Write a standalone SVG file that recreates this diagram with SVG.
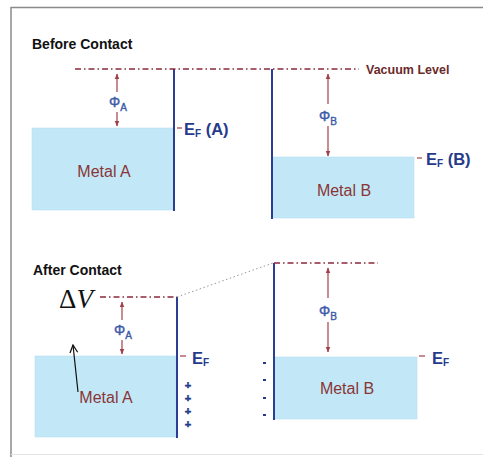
<svg xmlns="http://www.w3.org/2000/svg" width="483" height="457" viewBox="0 0 483 457">
<defs>
<style>
.frame{stroke:#8a8a8a;stroke-width:1.5;fill:none}
.vac{stroke:#8b2a3a;stroke-width:1.3;stroke-dasharray:6,3,1.5,3;fill:none}
.wall{stroke:#2b3d94;stroke-width:2;fill:none}
.metal{fill:#c2e8f8;stroke:#b0dcf0;stroke-width:0.5}
.phi{stroke:#a0404a;stroke-width:1.2;fill:none}
.tick{stroke:#a0404a;stroke-width:1.2}
.title{font-family:"Liberation Sans",Arial,sans-serif;font-weight:bold;font-size:14px;fill:#111}
.mtxt{font-family:"Liberation Sans",Arial,sans-serif;font-size:16px;fill:#8a3535;text-anchor:middle}
.ef{font-family:"Liberation Sans",Arial,sans-serif;font-weight:bold;font-size:16.5px;fill:#263a8c}
.efs{font-size:10px}
.ph{font-family:"Liberation Sans",Arial,sans-serif;font-size:14px;fill:#3a5aa8;stroke:#3a5aa8;stroke-width:0.4}
.phs{font-size:10px}
.vl{font-family:"Liberation Sans",Arial,sans-serif;font-weight:bold;font-size:12.5px;fill:#6a2a2a}
.sign{font-family:"Liberation Sans",Arial,sans-serif;font-weight:bold;font-size:11px;fill:#263a8c;text-anchor:middle;stroke:#263a8c;stroke-width:0.5}
.minus{fill:#263a8c}
</style>
<marker id="ah" viewBox="0 0 10 10" refX="9" refY="5" markerWidth="5" markerHeight="5" orient="auto-start-reverse">
<path d="M0,1 L10,5 L0,9 z" fill="#a0404a"/>
</marker>
<marker id="oa" viewBox="0 0 10 10" refX="9" refY="5" markerWidth="8" markerHeight="8" orient="auto">
<path d="M1,1 L9,5 L1,9" fill="none" stroke="#111" stroke-width="1.3"/>
</marker>
</defs>
<rect width="483" height="457" fill="#fff"/>
<g id="frame">
<path class="frame" d="M11,457 V7.5 H483"/>
<path d="M11,454.5 H483" stroke="#e4e4e4" stroke-width="1"/>
</g>

<text class="title" x="32" y="49">Before Contact</text>
<text class="title" x="33" y="275">After Contact</text>

<g id="metalA-before">
<rect class="metal" x="32" y="128" width="142" height="82"/>
<line class="wall" x1="174" y1="69" x2="174" y2="211"/>
<text class="mtxt" x="104" y="177">Metal A</text>
<line class="tick" x1="177" y1="128" x2="182" y2="128"/>
<text class="ef" x="184" y="135">E<tspan class="efs" dy="2">F</tspan><tspan dy="-2"> (A)</tspan></text>
</g>

<g id="metalB-before">
<rect class="metal" x="272" y="157" width="142" height="61"/>
<line class="wall" x1="272" y1="69" x2="272" y2="219"/>
<text class="mtxt" x="344" y="196">Metal B</text>
<line class="tick" x1="417" y1="158" x2="422" y2="158"/>
<text class="ef" x="426" y="165">E<tspan class="efs" dy="2">F</tspan><tspan dy="-2"> (B)</tspan></text>
</g>

<g id="vacuum-before">
<line class="vac" x1="75" y1="69" x2="359" y2="69"/>
<text class="vl" x="366" y="73.5">Vacuum Level</text>
</g>

<g id="metalA-after">
<rect class="metal" x="35" y="356" width="141" height="81"/>
<line class="wall" x1="177" y1="297" x2="177" y2="438"/>
<text class="mtxt" x="106" y="403">Metal A</text>
<line class="tick" x1="180" y1="356" x2="186" y2="356"/>
<text class="ef" x="192" y="364">E<tspan class="efs" dy="2">F</tspan></text>
<text class="sign" x="188" y="389">+</text>
<text class="sign" x="188" y="402">+</text>
<text class="sign" x="188" y="415">+</text>
<text class="sign" x="188" y="428">+</text>
<text x="59" y="308" font-family="'Liberation Serif','Times New Roman',serif" font-size="27" fill="#111">Δ<tspan font-style="italic">V</tspan></text>
</g>

<g id="metalB-after">
<rect class="metal" x="274" y="357" width="143" height="62"/>
<line class="wall" x1="274" y1="263" x2="274" y2="420"/>
<text class="mtxt" x="347" y="394">Metal B</text>
<line class="tick" x1="419" y1="356" x2="425" y2="356"/>
<text class="ef" x="432" y="364">E<tspan class="efs" dy="2">F</tspan></text>
<rect class="minus" x="263" y="362" width="3" height="2"/>
<rect class="minus" x="263" y="379" width="3" height="2"/>
<rect class="minus" x="263" y="397" width="3" height="2"/>
<rect class="minus" x="263" y="414" width="3" height="2"/>
</g>

<g id="connectors">
<line class="vac" x1="100" y1="297" x2="177" y2="297"/>
<line x1="177" y1="297" x2="273" y2="263" stroke="#999" stroke-width="1" stroke-dasharray="1.5,2.5"/>
<line class="vac" x1="274" y1="263" x2="378" y2="263"/>
<line class="phi" x1="117" y1="92" x2="117" y2="74" marker-end="url(#ah)"/>
<line class="phi" x1="117" y1="112" x2="117" y2="126" marker-end="url(#ah)"/>
<line class="phi" x1="328" y1="104" x2="328" y2="74" marker-end="url(#ah)"/>
<line class="phi" x1="328" y1="126" x2="328" y2="156" marker-end="url(#ah)"/>
<line class="phi" x1="122" y1="320" x2="122" y2="302" marker-end="url(#ah)"/>
<line class="phi" x1="122" y1="340" x2="122" y2="354" marker-end="url(#ah)"/>
<line class="phi" x1="328" y1="298" x2="328" y2="268" marker-end="url(#ah)"/>
<line class="phi" x1="328" y1="322" x2="328" y2="352" marker-end="url(#ah)"/>
<line x1="78" y1="392" x2="73" y2="345" stroke="#111" stroke-width="1.2" marker-end="url(#oa)"/>
</g>

<g id="labels">
<text class="ph" x="109" y="107">Φ<tspan class="phs" dy="4">A</tspan></text>
<text class="ph" x="319" y="121">Φ<tspan class="phs" dy="4">B</tspan></text>
<text class="ph" x="114" y="335">Φ<tspan class="phs" dy="4">A</tspan></text>
<text class="ph" x="319" y="316">Φ<tspan class="phs" dy="4">B</tspan></text>
</g>
</svg>
